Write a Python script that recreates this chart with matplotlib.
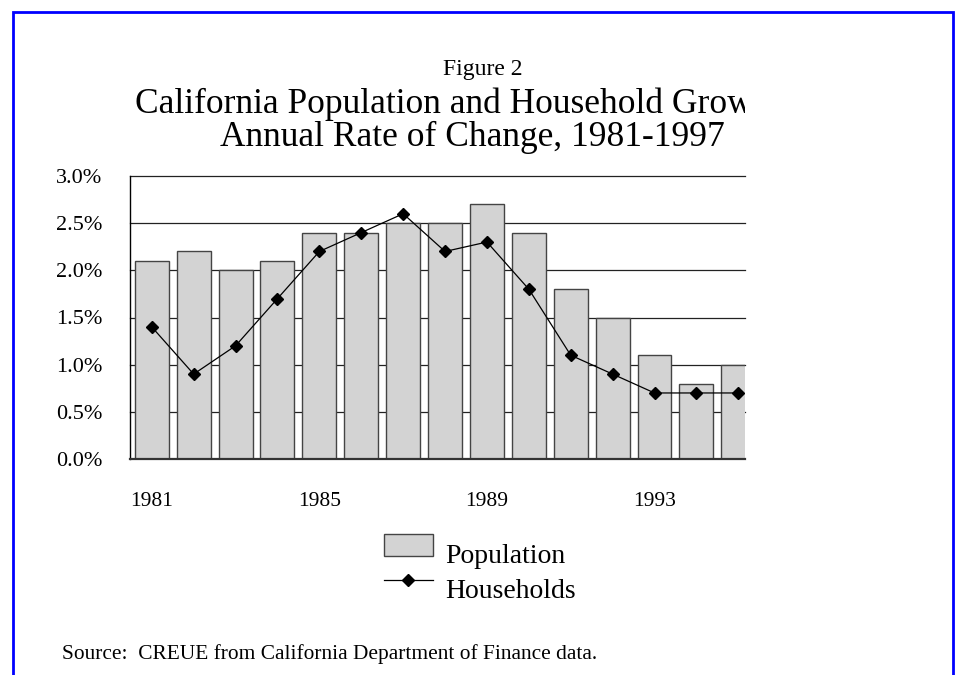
"""Figure 2: California population and household growth, 1981-1997."""

import matplotlib

matplotlib.use("Agg")

import matplotlib.pyplot as plt
from matplotlib.lines import Line2D
from matplotlib.patches import Rectangle
from matplotlib.ticker import FuncFormatter
from matplotlib.transforms import Bbox, ScaledTranslation, TransformedBbox

years = [1981, 1982, 1983, 1984, 1985, 1986, 1987, 1988,
         1989, 1990, 1991, 1992, 1993, 1994, 1995]
population = [2.1, 2.2, 2.0, 2.1, 2.4, 2.4, 2.5, 2.5,
              2.7, 2.4, 1.8, 1.5, 1.1, 0.8, 1.0]
households = [1.4, 0.9, 1.2, 1.7, 2.2, 2.4, 2.6, 2.2,
              2.3, 1.8, 1.1, 0.9, 0.7, 0.7, 0.7]
y_ticks = [0.0, 0.5, 1.0, 1.5, 2.0, 2.5, 3.0]

W, H = 957, 675
SERIF = ["Liberation Serif", "DejaVu Serif"]
plt.rcParams["font.family"] = SERIF


def fx(px: float) -> float:
    return px / W


def fy(px: float) -> float:
    return 1 - px / H


fig = plt.figure(figsize=(W / 100, H / 100), dpi=100)
fig.patch.set_facecolor("white")

# blue frame, bottom edge runs off the page
fig.patches.append(
    Rectangle((fx(13), -0.05), fx(953) - fx(13), fy(12) + 0.05,
              transform=fig.transFigure, fill=False,
              edgecolor="#0000ff", linewidth=2.0, zorder=10)
)

ax = fig.add_axes([fx(130), fy(459), fx(745) - fx(130), fy(176) - fy(459)])
ax.set_xlim(years[0] - 0.52, years[-1] + 0.16)
ax.set_ylim(0, 3.0)

for v in y_ticks[1:]:
    ax.axhline(v, color="#222222", linewidth=0.9, zorder=0.5, clip_on=False)

ax.bar(years, population, width=0.81, color="#d3d3d3",
       edgecolor="#444444", linewidth=1.0, zorder=2)
ax.plot(years, households, color="black", linewidth=0.9,
        marker="D", markersize=6.2, zorder=3)

ax.set_yticks(y_ticks)
ax.yaxis.set_major_formatter(FuncFormatter(lambda v, _: f"{v:.1f}%"))
ax.tick_params(axis="y", length=0, pad=20, labelsize=16)
ax.set_xticks(years)
ax.set_xticklabels([str(y) if (y - years[0]) % 4 == 0 else "" for y in years])
ax.tick_params(axis="x", direction="in", length=9.5, width=1.0,
               color="#333333", pad=24, labelsize=15.5)

for side in ("top", "right"):
    ax.spines[side].set_visible(False)
ax.spines["left"].set_linewidth(1.0)
ax.spines["bottom"].set_linewidth(1.6)
ax.spines["bottom"].set_color("#333333")
ax.patch.set_visible(False)

# titles; the chart frame cuts the first title line at its right edge
fig.text(fx(483), fy(69), "Figure 2", ha="center", va="center", fontsize=17)
title = fig.text(fx(135), fy(104),
                 "California Population and Household Growth",
                 ha="left", va="center", fontsize=25.5)
title.set_clip_box(TransformedBbox(Bbox([[0, 0], [fx(745), 1]]),
                                   fig.transFigure))
fig.text(fx(220), fy(137), "Annual Rate of Change, 1981-1997",
         ha="left", va="center", fontsize=25.5)

handles = [
    Rectangle((0, 0), 1, 1, facecolor="#d3d3d3", edgecolor="#444444",
              linewidth=1.0),
    Line2D([], [], color="black", linewidth=0.9, marker="D", markersize=6.2),
]
leg = fig.legend(handles, ["Population", "Households"],
                 loc="upper left", bbox_to_anchor=(fx(384), fy(534)),
                 frameon=False, fontsize=20, borderpad=0, borderaxespad=0,
                 handlelength=1.76, handleheight=0.86, handletextpad=0.43,
                 labelspacing=0.3)
# labels sit a little below their keys in the original
for t in leg.get_texts():
    t.set_transform(t.get_transform()
                    + ScaledTranslation(0, -0.08, fig.dpi_scale_trans))

fig.text(fx(62), fy(654),
         "Source:  CREUE from California Department of Finance data.",
         ha="left", va="center", fontsize=15.4)

fig.savefig("out.png", dpi=100)
